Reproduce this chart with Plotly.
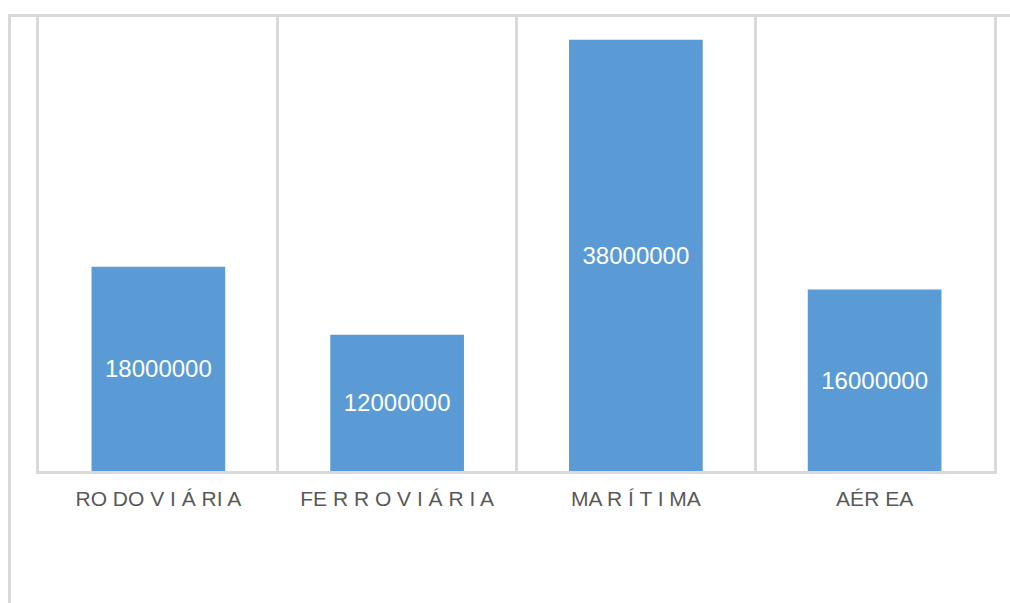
import plotly.graph_objects as go

categories = ["RO DO V I Á RI A", "FE R R O V I Á R I A", "MA R Í T I MA", "AÉR EA"]
values = [18000000, 12000000, 38000000, 16000000]

W, H = 1010, 603
ml, mr, mt, mb = 39, 16, 17, 132
pw = W - ml - mr
ph = H - mt - mb
GRID = "#D9D9D9"

fig = go.Figure(
    go.Bar(
        x=categories,
        y=values,
        width=0.56,
        marker=dict(color="#5B9BD5", line=dict(width=0)),
        text=[str(v) for v in values],
        textposition="inside",
        insidetextanchor="middle",
        textangle=0,
        textfont=dict(family="Liberation Sans, Arial", size=24, color="#FFFFFF"),
        cliponaxis=False,
    )
)

fig.update_layout(
    width=W,
    height=H,
    margin=dict(l=ml, r=mr, t=mt, b=mb),
    paper_bgcolor="#FFFFFF",
    plot_bgcolor="#FFFFFF",
    showlegend=False,
    xaxis=dict(
        type="category",
        range=[-0.5, 3.5],
        tickson="boundaries",
        showgrid=True,
        gridcolor=GRID,
        gridwidth=3,
        ticks="",
        showline=True,
        linecolor=GRID,
        linewidth=3,
        mirror=True,
        tickfont=dict(family="Liberation Sans, Arial", size=21, color="#595959"),
        ticklabelstandoff=7,
    ),
    yaxis=dict(
        range=[0, 40000000],
        showgrid=False,
        zeroline=False,
        showticklabels=False,
        ticks="",
        showline=True,
        linecolor=GRID,
        linewidth=3,
        mirror=True,
    ),
)

# outer chart-area border (cropped: only left and top visible)
xl = (9.5 - ml) / pw
xr = (1012 - ml) / pw
yb = (ph + mt - 605) / ph
ytop = 1 + 1.5 / ph
fig.add_shape(type="line", xref="paper", yref="paper", x0=xl, x1=xr, y0=ytop, y1=ytop,
              line=dict(color=GRID, width=3), layer="above")
fig.add_shape(type="line", xref="paper", yref="paper", x0=xl, x1=xl, y0=ytop + 1.5 / ph, y1=yb,
              line=dict(color=GRID, width=3), layer="above")

fig.write_html("out.html")
